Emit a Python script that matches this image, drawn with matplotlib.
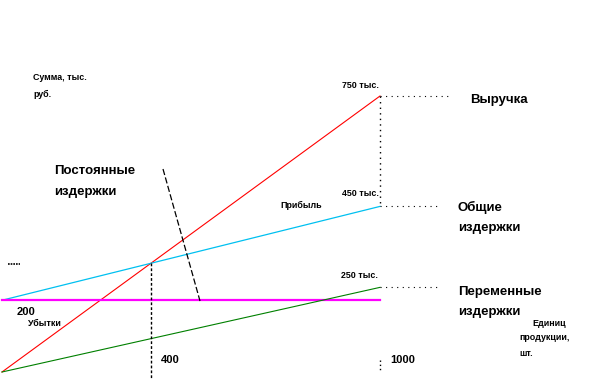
import matplotlib
matplotlib.use("Agg")
import matplotlib.pyplot as plt
import numpy as np

# units of production (x) and sums in thousand rubles (y)
units = [0, 1000]
revenue = [0, 750]
total_costs = [195, 450]
fixed_costs = [195, 195]
variable_costs = [0, 230]

# labels
y_axis_label = ["Сумма, тыс.", "руб."]
x_axis_label = ["Единиц", "продукции,", "шт."]

W, H = 610, 387
# pixel mapping: x=0 -> px 2, x=1000 -> px 380 ; y=0 -> px 372, y=750 -> px 96
x0_px, x1_px = 2, 380
y0_px, y1_px = 372, 96
sx = (x1_px - x0_px) / 1000
sy = (y0_px - y1_px) / 750

fig = plt.figure(figsize=(W / 100, H / 100), dpi=100)
ax = fig.add_axes([0, 0, 1, 1])
ax.set_xlim(-x0_px / sx, (W - x0_px) / sx)
ax.set_ylim(-(H - y0_px) / sy, y0_px / sy)
ax.axis("off")


def to_data(px, py):
    return (px - x0_px) / sx, (y0_px - py) / sy


# main lines
ax.plot(units, revenue, color="#ff0000", lw=0.8)
ax.plot(units, total_costs, color="#00c0f0", lw=0.9)
ax.plot(units, fixed_costs, color="#ff00ff", lw=1.6)
ax.plot(units, variable_costs, color="#008000", lw=0.8)

# break-even guide (intersection of revenue and total costs)
rev_slope = (revenue[1] - revenue[0]) / (units[1] - units[0])
tc_slope = (total_costs[1] - total_costs[0]) / (units[1] - units[0])
break_even = (total_costs[0] - revenue[0]) / (rev_slope - tc_slope)
be_y = revenue[0] + rev_slope * break_even
ax.plot([break_even, break_even], [be_y, -15], color="k", lw=1, ls=(0, (2, 1.5)))

# guides at x = 1000
ax.plot([1000, 1000], [revenue[1], total_costs[1]], color="k", lw=1, ls=(0, (1, 3)))
ax.plot([1000, 1000], [33, 0], color="k", lw=1, ls=(0, (1, 2)))
ax.plot([1000, 1190], [revenue[1]] * 2, color="k", lw=0.8, ls=(0, (1, 4)))
ax.plot([1000, 1159], [total_costs[1]] * 2, color="k", lw=0.8, ls=(0, (1, 4)))
ax.plot([1000, 1153], [variable_costs[1]] * 2, color="k", lw=0.8, ls=(0, (1, 4)))

# pointer from label to fixed costs line
p1 = to_data(163, 169)
p2 = to_data(200, 301)
ax.plot([p1[0], p2[0]], [p1[1], p2[1]], color="k", lw=0.9, ls=(0, (5, 2)))

# short mark at left
m1 = to_data(8, 264)
m2 = to_data(20, 264)
ax.plot([m1[0], m2[0]], [m1[1], m2[1]], color="k", lw=1.2, ls=(0, (1, 0.6)))

font = "Liberation Sans"


def txt(px, py, s, size):
    fig.text(px / W, 1 - py / H, s, fontsize=size, fontweight="bold",
             family=font, ha="left", va="center")


small = 6.4
num = 8
big = 9.5
txt(33, 78, y_axis_label[0], small)
txt(33, 94, y_axis_label[1], small)
txt(342, 85, "750 тыс.", small)
txt(470, 100, "Выручка", big)
txt(54, 171, "Постоянные", big)
txt(54, 192, "издержки", big)
txt(280, 205, "Прибыль", small)
txt(342, 193, "450 тыс.", small)
txt(458, 207, "Общие", big)
txt(458, 228, "издержки", big)
txt(341, 276, "250 тыс.", small)
txt(458, 292, "Переменные", big)
txt(458, 312, "издержки", big)
txt(532, 323, x_axis_label[0], small)
txt(519, 338, x_axis_label[1], small)
txt(519, 353, x_axis_label[2], small)
txt(17, 312, "200", num)
txt(28, 323, "Убытки", small)
txt(161, 360, "400", num)
txt(390, 360, "1000", num)

fig.savefig("out.png", dpi=100)
